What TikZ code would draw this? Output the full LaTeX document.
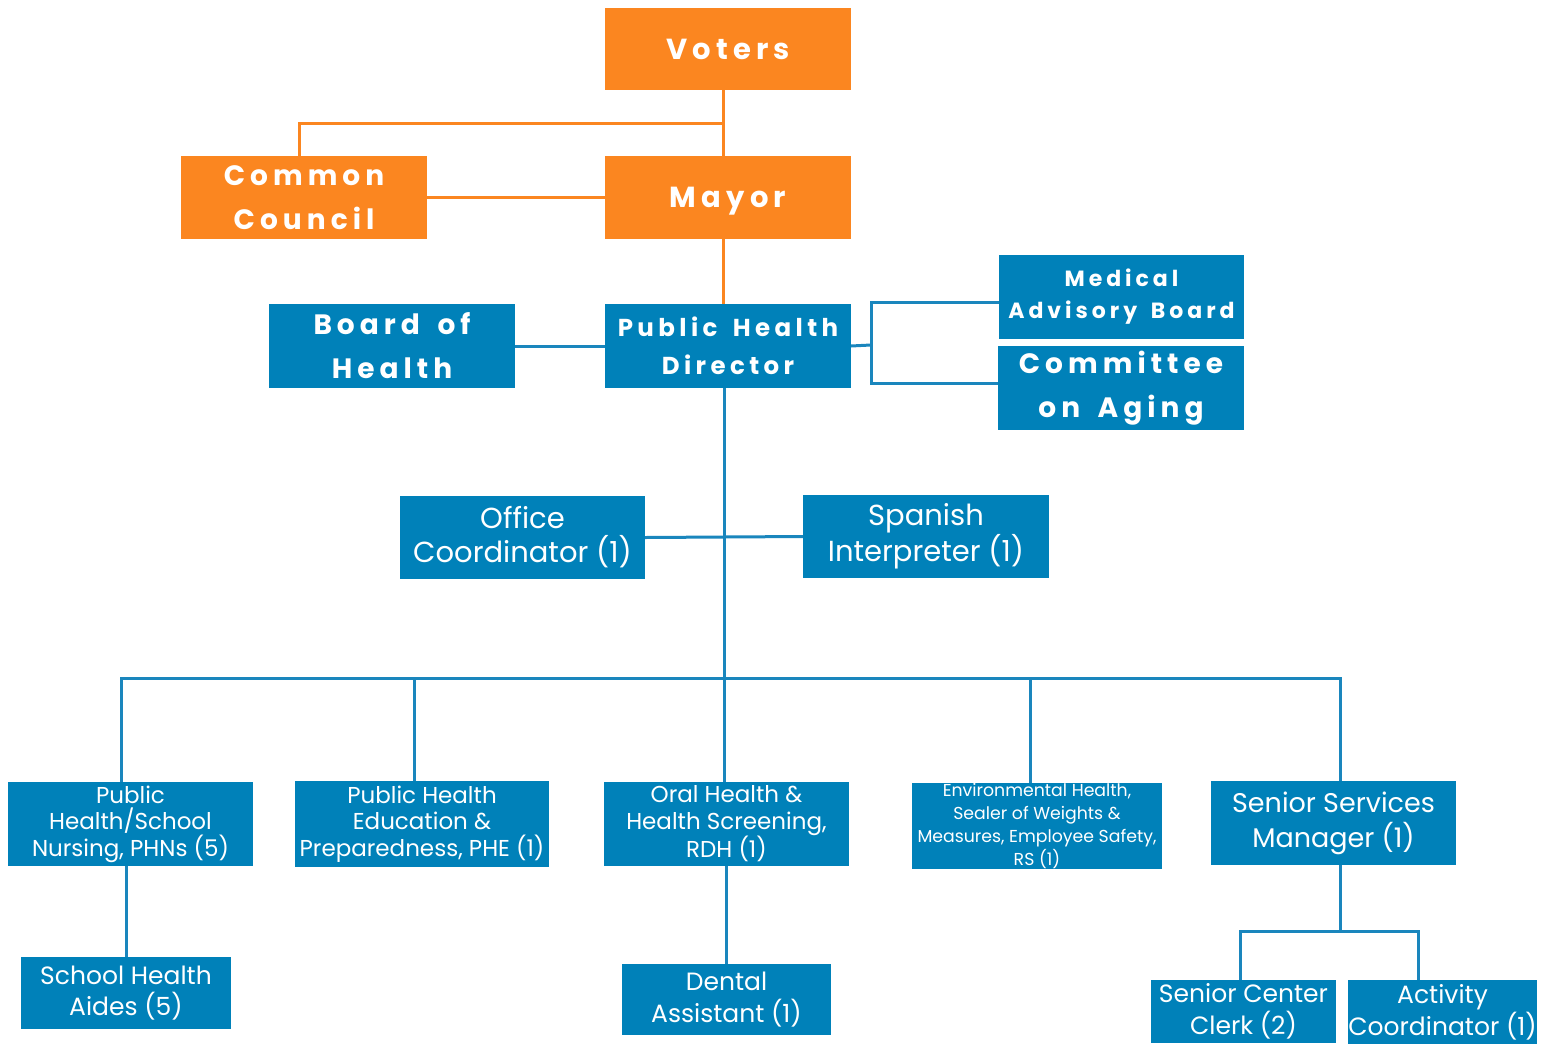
\documentclass[tikz,border=0pt]{standalone}
\usepackage{fontspec}
\setmainfont{Poppins}
\newfontfamily\hd{Poppins}[LetterSpace=18,WordSpace=1.6]
\usetikzlibrary{backgrounds}
\definecolor{ora}{HTML}{FB8620}
\definecolor{blu}{HTML}{0081B9}
\definecolor{bline}{HTML}{1A86BD}
\begin{document}
\begin{tikzpicture}[x=1pt,y=-1pt,
  box/.style={draw=none,text=white,align=center,inner sep=0pt,outer sep=0pt},
  obox/.style={box,fill=ora},
  bbox/.style={box,fill=blu},
  oline/.style={draw=ora,line width=3pt},
  bl/.style={draw=bline,line width=3pt}]
\useasboundingbox (0,0) rectangle (1545,1045);
% governing bodies
\node[obox,minimum width=246,minimum height=82,font=\hd\bfseries\fontsize{29}{44}\selectfont] (voters) at (728,49) {Voters};
\node[obox,minimum width=246,minimum height=83,text depth=0pt,font=\hd\bfseries\fontsize{29}{44}\selectfont] (mayor) at (728,197.5) {Mayor};
\node[obox,minimum width=246,minimum height=83,font=\hd\bfseries\fontsize{28}{44}\selectfont] (council) at (304,197.5) {Common\\Council};
% health leadership
\node[bbox,minimum width=246,minimum height=84,font=\hd\bfseries\fontsize{28}{44}\selectfont] (board) at (392,346) {Board of\\Health};
\node[bbox,minimum width=246,minimum height=84,font=\hd\bfseries\fontsize{24.5}{38}\selectfont] (phd) at (728,346) {Public Health\\Director};
\node[bbox,minimum width=245,minimum height=84,font=\hd\bfseries\fontsize{22}{32}\selectfont] (mab) at (1121.5,297) {Medical\\Advisory Board};
\node[bbox,minimum width=246,minimum height=84,font=\hd\bfseries\fontsize{28}{44}\selectfont] (coa) at (1121,388) {Committee\\on Aging};
% staff
\node[bbox,minimum width=245,minimum height=83,font=\fontsize{29}{34}\selectfont] (office) at (522.5,537.5) {Office\\Coordinator (1)};
\node[bbox,minimum width=246,minimum height=83,font=\fontsize{29}{34}\selectfont] (spanish) at (926,536.5) {Spanish\\Interpreter (1)};
\node[bbox,minimum width=245,minimum height=84,font=\fontsize{23}{26.5}\selectfont] (phn) at (130.5,824) {Public\\Health/School\\Nursing, PHNs (5)};
\node[bbox,minimum width=254,minimum height=86,font=\fontsize{23}{26.5}\selectfont] (phe) at (422,824) {Public Health\\Education \&\\Preparedness, PHE (1)};
\node[bbox,minimum width=245,minimum height=84,font=\fontsize{23}{26.5}\selectfont] (oral) at (726.5,824) {Oral Health \&\\Health Screening,\\RDH (1)};
\node[bbox,minimum width=250,minimum height=84,font=\fontsize{17.3}{23}\selectfont] (env) at (1037,826) {Environmental Health,\\Sealer of Weights \&\\Measures, Employee Safety,\\RS (1)};
\node[bbox,minimum width=245,minimum height=84,font=\fontsize{27}{35}\selectfont] (ssm) at (1333.5,823) {Senior Services\\Manager (1)};
\node[bbox,minimum width=210,minimum height=72,font=\fontsize{25}{31}\selectfont] (aides) at (126,993) {School Health\\Aides (5)};
\node[bbox,minimum width=209,minimum height=71,font=\fontsize{25}{32}\selectfont] (dental) at (726.5,999.5) {Dental\\Assistant (1)};
\node[bbox,minimum width=185,minimum height=63,font=\fontsize{25}{32}\selectfont] (clerk) at (1243.5,1011.5) {Senior Center\\Clerk (2)};
\node[bbox,minimum width=187,minimum height=64,font=\fontsize{25}{32}\selectfont] (activity) at (1442.5,1012) {Activity\\Coordinator (1)};
% connectors
\begin{scope}[on background layer]
\coordinate (jv) at (723,123);
\draw[oline] ([xshift=-5pt]voters.south) -- ([xshift=-5pt]mayor.north);
\draw[oline] (jv) -| ([xshift=-5pt]council.north);
\draw[oline] (council.east) -- (mayor.west);
\draw[oline] ([xshift=-5pt]mayor.south) -- ([xshift=-5pt]phd.north);
\draw[bl] (board.east) -- (phd.west);
\coordinate (jr) at (871,345);
\draw[bl] (phd.east) -- (jr);
\draw[bl] ([yshift=-5pt]mab.west) -| (jr);
\draw[bl] ([yshift=5pt]coa.west) -| (jr);
\coordinate (bus) at (724,678);
\draw[bl] ([xshift=-4pt]phd.south) -- (bus);
\draw[bl] (office.east) -- (spanish.west);
\draw[bl] ([xshift=-9.5pt]phn.north) |- (bus);
\draw[bl] ([xshift=-8pt]phe.north) |- (bus);
\draw[bl] ([xshift=-2.5pt]oral.north) -- (bus);
\draw[bl] ([xshift=-7pt]env.north) |- (bus);
\draw[bl] ([xshift=6.5pt]ssm.north) |- (bus);
\draw[bl] (aides.north) -- (aides.north |- phn.south);
\draw[bl] (oral.south) -- (dental.north);
\coordinate (sj) at (1340,931);
\draw[bl] ([xshift=6.5pt]ssm.south) -- (sj);
\draw[bl] ([xshift=-3.5pt]clerk.north) |- (sj) -| ([xshift=-24.5pt]activity.north);
\end{scope}
\end{tikzpicture}
\end{document}
